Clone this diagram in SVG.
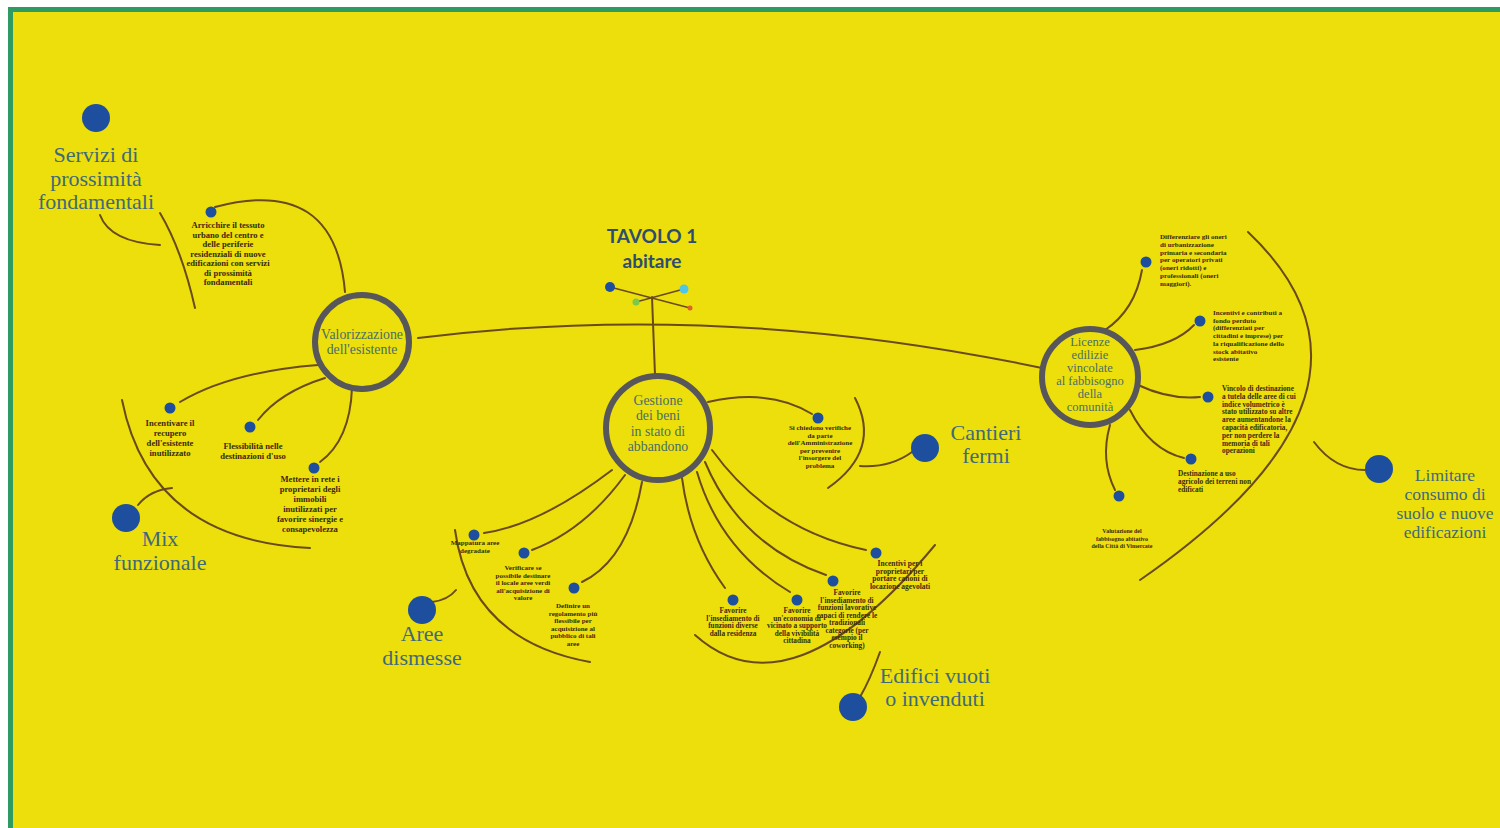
<svg xmlns="http://www.w3.org/2000/svg" width="1500" height="828" viewBox="0 0 1500 828">
<defs>
<style>
.ln{fill:none;stroke:#6a4a1a;stroke-width:2;stroke-linecap:round}
.dot{fill:#1d4f9e}
.hub{fill:none;stroke:#57565a;stroke-width:6}
.hubt{font-family:"Liberation Serif",serif;font-size:13.8px;fill:#4a6e66;text-anchor:middle}
.big{font-family:"Liberation Serif",serif;font-size:22px;fill:#3f6a78;text-anchor:middle}
.sm{font-family:"Liberation Serif",serif;font-size:7px;font-weight:bold;fill:#3a2a0e;text-anchor:middle}
.sml{font-family:"Liberation Serif",serif;font-size:7.1px;font-weight:bold;fill:#3a2a0e;text-anchor:start}
.smb{font-size:8.6px}
.title{font-family:Lato,"Liberation Sans",sans-serif;font-size:19px;font-weight:bold;fill:#2e4d6e;text-anchor:middle}
</style>
</defs>
<rect x="0" y="0" width="1500" height="828" fill="#ffffff"/>
<rect x="8" y="7" width="1492" height="821" fill="#2f9a62"/>
<rect x="13" y="12" width="1487" height="816" fill="#ecdf0c"/>

<g id="connectors">
<path class="ln" d="M418,338 Q720,300 1042,368"/>
<path class="ln" d="M652,297 L655,375"/>
<path class="ln" d="M100,215 Q110,242 160,245"/>
<path class="ln" d="M160,213 Q182,250 195,308"/>
<path class="ln" d="M215,207 Q335,175 345,292"/>
<path class="ln" d="M318,365 Q230,372 180,402"/>
<path class="ln" d="M325,378 Q280,392 258,420"/>
<path class="ln" d="M352,388 Q350,440 320,462"/>
<path class="ln" d="M122,400 Q150,540 310,548"/>
<path class="ln" d="M138,505 Q150,490 172,488"/>
<path class="ln" d="M612,470 Q540,525 484,533"/>
<path class="ln" d="M625,475 Q585,530 532,550"/>
<path class="ln" d="M642,482 Q628,560 582,582"/>
<path class="ln" d="M455,530 Q470,640 590,662"/>
<path class="ln" d="M432,602 Q448,600 456,590"/>
<path class="ln" d="M682,478 Q690,540 725,588"/>
<path class="ln" d="M697,472 Q720,550 790,592"/>
<path class="ln" d="M705,462 Q740,545 826,575"/>
<path class="ln" d="M712,450 Q770,530 866,550"/>
<path class="ln" d="M695,635 Q790,720 935,545"/>
<path class="ln" d="M860,697 Q870,680 880,652"/>
<path class="ln" d="M708,402 Q770,388 812,414"/>
<path class="ln" d="M855,398 Q882,450 828,488"/>
<path class="ln" d="M860,466 Q890,468 912,452"/>
<path class="ln" d="M1105,330 Q1135,310 1142,270"/>
<path class="ln" d="M1135,350 Q1175,345 1194,325"/>
<path class="ln" d="M1138,385 Q1170,400 1200,397"/>
<path class="ln" d="M1130,410 Q1150,450 1184,458"/>
<path class="ln" d="M1110,425 Q1100,460 1115,490"/>
<path class="ln" d="M1248,232 Q1415,390 1140,580"/>
<path class="ln" d="M1365,470 Q1335,470 1314,442"/>
</g>

<g id="tavolo">
<text class="title" x="652" y="243">TAVOLO 1</text>
<text class="title" x="652" y="268">abitare</text>
<line x1="610" y1="287" x2="690" y2="308" stroke="#6a4a1a" stroke-width="1.5"/>
<line x1="684" y1="289" x2="636" y2="302" stroke="#6a4a1a" stroke-width="1.5"/>
<circle cx="610" cy="287" r="5" fill="#1d4f9e"/>
<circle cx="684" cy="289" r="4.5" fill="#4fc6e8"/>
<circle cx="636" cy="302" r="3.5" fill="#7cc84a"/>
<circle cx="690" cy="308" r="2.5" fill="#e0602a"/>
</g>

<g id="valorizzazione">
<circle class="hub" cx="362" cy="342" r="47"/>
<text class="hubt" x="362" y="339">Valorizzazione</text>
<text class="hubt" x="362" y="354">dell'esistente</text>
</g>

<g id="gestione">
<circle class="hub" cx="658" cy="428" r="52"/>
<text class="hubt" x="658" y="405">Gestione</text>
<text class="hubt" x="658" y="420">dei beni</text>
<text class="hubt" x="658" y="436">in stato di</text>
<text class="hubt" x="658" y="451">abbandono</text>
</g>

<g id="licenze">
<circle class="hub" cx="1090" cy="377" r="48"/>
<text class="hubt" x="1090" y="346" style="font-size:12.5px">Licenze</text>
<text class="hubt" x="1090" y="359" style="font-size:12.5px">edilizie</text>
<text class="hubt" x="1090" y="372" style="font-size:12.5px">vincolate</text>
<text class="hubt" x="1090" y="385" style="font-size:12.5px">al fabbisogno</text>
<text class="hubt" x="1090" y="398" style="font-size:12.5px">della</text>
<text class="hubt" x="1090" y="411" style="font-size:12.5px">comunità</text>
</g>

<g id="servizi">
<circle class="dot" cx="96" cy="118" r="14"/>
<text class="big" x="96" y="162">Servizi di</text>
<text class="big" x="96" y="186">prossimità</text>
<text class="big" x="96" y="209">fondamentali</text>
</g>

<g id="arricchire">
<circle class="dot" cx="211" cy="212" r="5.5"/>
<text class="sm smb" x="228" y="228"><tspan x="228">Arricchire il tessuto</tspan><tspan x="228" dy="9.5">urbano del centro e</tspan><tspan x="228" dy="9.5">delle periferie</tspan><tspan x="228" dy="9.5">residenziali di nuove</tspan><tspan x="228" dy="9.5">edificazioni con servizi</tspan><tspan x="228" dy="9.5">di prossimità</tspan><tspan x="228" dy="9.5">fondamentali</tspan></text>
</g>

<g id="mix">
<circle class="dot" cx="126" cy="518" r="14"/>
<text class="big" x="160" y="546">Mix</text>
<text class="big" x="160" y="570">funzionale</text>
</g>

<g id="incentivare">
<circle class="dot" cx="170" cy="408" r="5.5"/>
<text class="sm smb" x="170" y="426"><tspan x="170">Incentivare il</tspan><tspan x="170" dy="10">recupero</tspan><tspan x="170" dy="10">dell'esistente</tspan><tspan x="170" dy="10">inutilizzato</tspan></text>
</g>

<g id="flessibilita">
<circle class="dot" cx="250" cy="427" r="5.5"/>
<text class="sm smb" x="253" y="449"><tspan x="253">Flessibilità nelle</tspan><tspan x="253" dy="9.5">destinazioni d'uso</tspan></text>
</g>

<g id="mettere">
<circle class="dot" cx="314" cy="468" r="5.5"/>
<text class="sm smb" x="310" y="482"><tspan x="310">Mettere in rete i</tspan><tspan x="310" dy="10">proprietari degli</tspan><tspan x="310" dy="10">immobili</tspan><tspan x="310" dy="10">inutilizzati per</tspan><tspan x="310" dy="10">favorire sinergie e</tspan><tspan x="310" dy="10">consapevolezza</tspan></text>
</g>

<g id="aree">
<circle class="dot" cx="422" cy="610" r="14"/>
<text class="big" x="422" y="641">Aree</text>
<text class="big" x="422" y="665">dismesse</text>
</g>

<g id="mappatura">
<circle class="dot" cx="474" cy="535" r="5.5"/>
<text class="sm" x="475" y="545"><tspan x="475">Mappatura aree</tspan><tspan x="475" dy="7.5">degradate</tspan></text>
</g>

<g id="verificare">
<circle class="dot" cx="524" cy="553" r="5.5"/>
<text class="sm" x="523" y="570"><tspan x="523">Verificare se</tspan><tspan x="523" dy="7.5">possibile destinare</tspan><tspan x="523" dy="7.5">il locale aree verdi</tspan><tspan x="523" dy="7.5">all'acquisizione di</tspan><tspan x="523" dy="7.5">valore</tspan></text>
</g>

<g id="definire">
<circle class="dot" cx="574" cy="588" r="5.5"/>
<text class="sm" x="573" y="608"><tspan x="573">Definire un</tspan><tspan x="573" dy="7.5">regolamento più</tspan><tspan x="573" dy="7.5">flessibile per</tspan><tspan x="573" dy="7.5">acquisizione al</tspan><tspan x="573" dy="7.5">pubblico di tali</tspan><tspan x="573" dy="7.5">aree</tspan></text>
</g>

<g id="favorire1">
<circle class="dot" cx="733" cy="600" r="5.5"/>
<text class="sm" x="733" y="613" style="font-size:7.3px"><tspan x="733">Favorire</tspan><tspan x="733" dy="7.5">l'insediamento di</tspan><tspan x="733" dy="7.5">funzioni diverse</tspan><tspan x="733" dy="7.5">dalla residenza</tspan></text>
</g>

<g id="favorire2">
<circle class="dot" cx="797" cy="600" r="5.5"/>
<text class="sm" x="797" y="613" style="font-size:7.3px"><tspan x="797">Favorire</tspan><tspan x="797" dy="7.5">un'economia di</tspan><tspan x="797" dy="7.5">vicinato a supporto</tspan><tspan x="797" dy="7.5">della vivibilità</tspan><tspan x="797" dy="7.5">cittadina</tspan></text>
</g>

<g id="favorire3">
<circle class="dot" cx="833" cy="581" r="5.5"/>
<text class="sm" x="847" y="595" style="font-size:7.3px"><tspan x="847">Favorire</tspan><tspan x="847" dy="7.5">l'insediamento di</tspan><tspan x="847" dy="7.5">funzioni lavorative</tspan><tspan x="847" dy="7.5">capaci di rendere le</tspan><tspan x="847" dy="7.5">tradizionali</tspan><tspan x="847" dy="7.5">categorie (per</tspan><tspan x="847" dy="7.5">esempio il</tspan><tspan x="847" dy="7.5">coworking)</tspan></text>
</g>

<g id="incentivi-proprietari">
<circle class="dot" cx="876" cy="553" r="5.5"/>
<text class="sm" x="900" y="566" style="font-size:7.5px"><tspan x="900">Incentivi per i</tspan><tspan x="900" dy="7.5">proprietari per</tspan><tspan x="900" dy="7.5">portare canoni di</tspan><tspan x="900" dy="7.5">locazione agevolati</tspan></text>
</g>

<g id="edifici">
<circle class="dot" cx="853" cy="707" r="14"/>
<text class="big" x="935" y="683">Edifici vuoti</text>
<text class="big" x="935" y="706">o invenduti</text>
</g>

<g id="verifiche">
<circle class="dot" cx="818" cy="418" r="5.5"/>
<text class="sm" x="820" y="430"><tspan x="820">Si chiedono verifiche</tspan><tspan x="820" dy="7.5">da parte</tspan><tspan x="820" dy="7.5">dell'Amministrazione</tspan><tspan x="820" dy="7.5">per prevenire</tspan><tspan x="820" dy="7.5">l'insorgere del</tspan><tspan x="820" dy="7.5">problema</tspan></text>
</g>

<g id="cantieri">
<circle class="dot" cx="925" cy="448" r="14"/>
<text class="big" x="986" y="440">Cantieri</text>
<text class="big" x="986" y="463">fermi</text>
</g>

<g id="differenziare">
<circle class="dot" cx="1146" cy="262" r="5.5"/>
<text class="sml" x="1160" y="239"><tspan x="1160">Differenziare gli oneri</tspan><tspan x="1160" dy="7.8">di urbanizzazione</tspan><tspan x="1160" dy="7.8">primaria e secondaria</tspan><tspan x="1160" dy="7.8">per operatori privati</tspan><tspan x="1160" dy="7.8">(oneri ridotti) e</tspan><tspan x="1160" dy="7.8">professionali (oneri</tspan><tspan x="1160" dy="7.8">maggiori).</tspan></text>
</g>

<g id="incentivi-contributi">
<circle class="dot" cx="1200" cy="321" r="5.5"/>
<text class="sml" x="1213" y="315"><tspan x="1213">Incentivi e contributi a</tspan><tspan x="1213" dy="7.7">fondo perduto</tspan><tspan x="1213" dy="7.7">(differenziati per</tspan><tspan x="1213" dy="7.7">cittadini e imprese) per</tspan><tspan x="1213" dy="7.7">la riqualificazione dello</tspan><tspan x="1213" dy="7.7">stock abitativo</tspan><tspan x="1213" dy="7.7">esistente</tspan></text>
</g>

<g id="vincolo">
<circle class="dot" cx="1208" cy="397" r="5.5"/>
<text class="sml" x="1222" y="391" style="font-size:7.3px"><tspan x="1222">Vincolo di destinazione</tspan><tspan x="1222" dy="7.8">a tutela delle aree di cui</tspan><tspan x="1222" dy="7.8">indice volumetrico è</tspan><tspan x="1222" dy="7.8">stato utilizzato su altre</tspan><tspan x="1222" dy="7.8">aree aumentandone la</tspan><tspan x="1222" dy="7.8">capacità edificatoria,</tspan><tspan x="1222" dy="7.8">per non perdere la</tspan><tspan x="1222" dy="7.8">memoria di tali</tspan><tspan x="1222" dy="7.8">operazioni</tspan></text>
</g>

<g id="destinazione">
<circle class="dot" cx="1191" cy="459" r="5.5"/>
<text class="sml" x="1178" y="476" style="font-size:7.3px"><tspan x="1178">Destinazione a uso</tspan><tspan x="1178" dy="7.8">agricolo dei terreni non</tspan><tspan x="1178" dy="7.8">edificati</tspan></text>
</g>

<g id="valutazione">
<circle class="dot" cx="1119" cy="496" r="5.5"/>
<text class="sm" x="1122" y="533" style="font-size:6px"><tspan x="1122">Valutazione del</tspan><tspan x="1122" dy="7.6">fabbisogno abitativo</tspan><tspan x="1122" dy="7.6">della Città di Vimercate</tspan></text>
</g>

<g id="limitare">
<circle class="dot" cx="1379" cy="469" r="14"/>
<text class="big" x="1445" y="481" style="font-size:17.5px">Limitare</text>
<text class="big" x="1445" y="500" style="font-size:17.5px">consumo di</text>
<text class="big" x="1445" y="519" style="font-size:17.5px">suolo e nuove</text>
<text class="big" x="1445" y="538" style="font-size:17.5px">edificazioni</text>
</g>
</svg>
